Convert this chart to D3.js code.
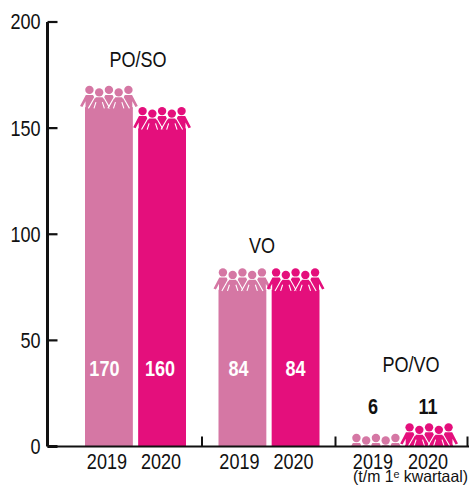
<!DOCTYPE html>
<html><head><meta charset="utf-8">
<style>html,body{margin:0;padding:0;background:#fff}text{font-family:"Liberation Sans",sans-serif}</style>
<script src="https://cdn.jsdelivr.net/npm/d3@7/dist/d3.min.js"></script></head><body>
<svg id="c" width="469" height="486"></svg>
<script>
const groups = ["PO/SO","VO","PO/VO"];
const years = ["2019","2020"];
const values2019 = [170,84,6];
const values2020 = [160,84,11];
const yTicks = [0,50,100,150,200];
const colors = {"2019":"#d577a4","2020":"#e40f7c"};
const note = "(t/m 1ᵉ kwartaal)";

const W=469,H=486,baseY=446.5,axisX=47.5,SX=0.84;
const svg=d3.select("#c");
const y=d3.scaleLinear().domain([0,200]).range([baseY,22]);
const x0=d3.scaleBand().domain(groups).range([68.5,469]);
const x1=d3.scaleBand().domain(years).range([16.5,117.5]).paddingInner(0.1);
const rows=[];
groups.forEach((g,i)=>{rows.push({g,i,yr:"2019",v:values2019[i]});rows.push({g,i,yr:"2020",v:values2020[i]});});

// condensed text: no narrow face is installed, so squeeze horizontally
function label(x,yy,t,o={}){
  return svg.append("text").attr("transform",`translate(${x},${yy}) scale(${o.sx||SX},1)`)
    .attr("text-anchor",o.anchor||"middle").attr("font-size",o.size||21.5)
    .attr("font-weight",o.weight||"normal").attr("fill",o.fill||"#111").text(t);
}

svg.append("defs").append("clipPath").attr("id","base").append("rect").attr("x",0).attr("y",0).attr("width",W).attr("height",baseY);

const person="M-3.6,9.2 L3.6,9.2 L9.4,20.4 L7,21.4 L3.9,15.5 L3.9,23 L-3.9,23 L-3.9,15.5 L-7,21.4 L-9.4,20.4 Z";
const frontFill="M-3.4,9 L3.4,9 L10,20 L-10,20 Z";
const frontCut="M-4.2,8.6 L-10.8,20.2 M4.2,8.6 L10.8,20.2 M-3.2,14 L-5.2,20.2 M3.2,14 L5.2,20.2";

const marks=svg.append("g").attr("clip-path","url(#base)");
rows.forEach(d=>{
  const bx=x0(d.g)+x1(d.yr),bw=x1.bandwidth(),top=y(d.v),col=colors[d.yr];
  const g=marks.append("g");
  const bodyTop=top+21.5;
  if(bodyTop<baseY) g.append("rect").attr("x",bx).attr("y",bodyTop).attr("width",bw).attr("height",baseY-bodyTop).attr("fill",col);
  const step=9.75,cx=bx+bw/2;
  [-2,0,2].forEach(k=>{
    const p=g.append("g").attr("transform",`translate(${cx+k*step},${top})`);
    p.append("circle").attr("cy",4.2).attr("r",4.2).attr("fill",col);
    p.append("path").attr("d",person).attr("fill",col);
  });
  [-1,1].forEach(k=>{
    const p=g.append("g").attr("transform",`translate(${cx+k*step},${top+2.5})`);
    p.append("circle").attr("cy",4.2).attr("r",4.2).attr("fill",col);
    p.append("path").attr("d",frontFill).attr("fill",col);
    p.append("path").attr("d",frontCut).attr("fill","none").attr("stroke","#fff").attr("stroke-width",1.1);
  });
});

// axes
const yAxis=d3.axisLeft(y).tickValues(yTicks).tickSize(0).tickPadding(7);
const ga=svg.append("g").attr("transform",`translate(${axisX},0)`).call(yAxis);
ga.select(".domain").attr("stroke","#111").attr("stroke-width",3).attr("d",`M0,${y(200)}V${baseY}`);
ga.selectAll(".tick text").attr("font-size",21.5).attr("fill","#111").attr("x",null).attr("transform",`translate(-7,0) scale(${SX},1)`);
yTicks.forEach(t=>svg.append("line").attr("x1",axisX).attr("x2",axisX+10).attr("y1",y(t)).attr("y2",y(t)).attr("stroke","#111").attr("stroke-width",t===0?3:2.2));
svg.append("line").attr("x1",axisX).attr("x2",469).attr("y1",baseY).attr("y2",baseY).attr("stroke","#111").attr("stroke-width",2);
groups.forEach(g=>{
  const tx=Math.min(x0(g)+x0.bandwidth(),467.5);
  svg.append("line").attr("x1",tx).attr("x2",tx).attr("y1",baseY).attr("y2",baseY-10).attr("stroke","#111").attr("stroke-width",2);
});

// label nudges relative to the bar centres
const yearNudge=[-2,-1,-3,-2,-3,-1];
const valueNudge=[-4.5,-2,-4,0,-3,-1];
rows.forEach((d,k)=>{
  const cx=x0(d.g)+x1(d.yr)+x1.bandwidth()/2;
  label(cx+yearNudge[k],469,d.yr);
  const big=d.v>50;
  label(cx+valueNudge[k],big?376:414,d.v,{weight:"bold",fill:big?"#fff":"#111"});
});
const gy=[67,253,372],gx=[138,262,411];
groups.forEach((g,i)=>label(gx[i],gy[i],g));
label(468,481.5,note,{anchor:"end",size:16.5,sx:0.96});
</script></body></html>
